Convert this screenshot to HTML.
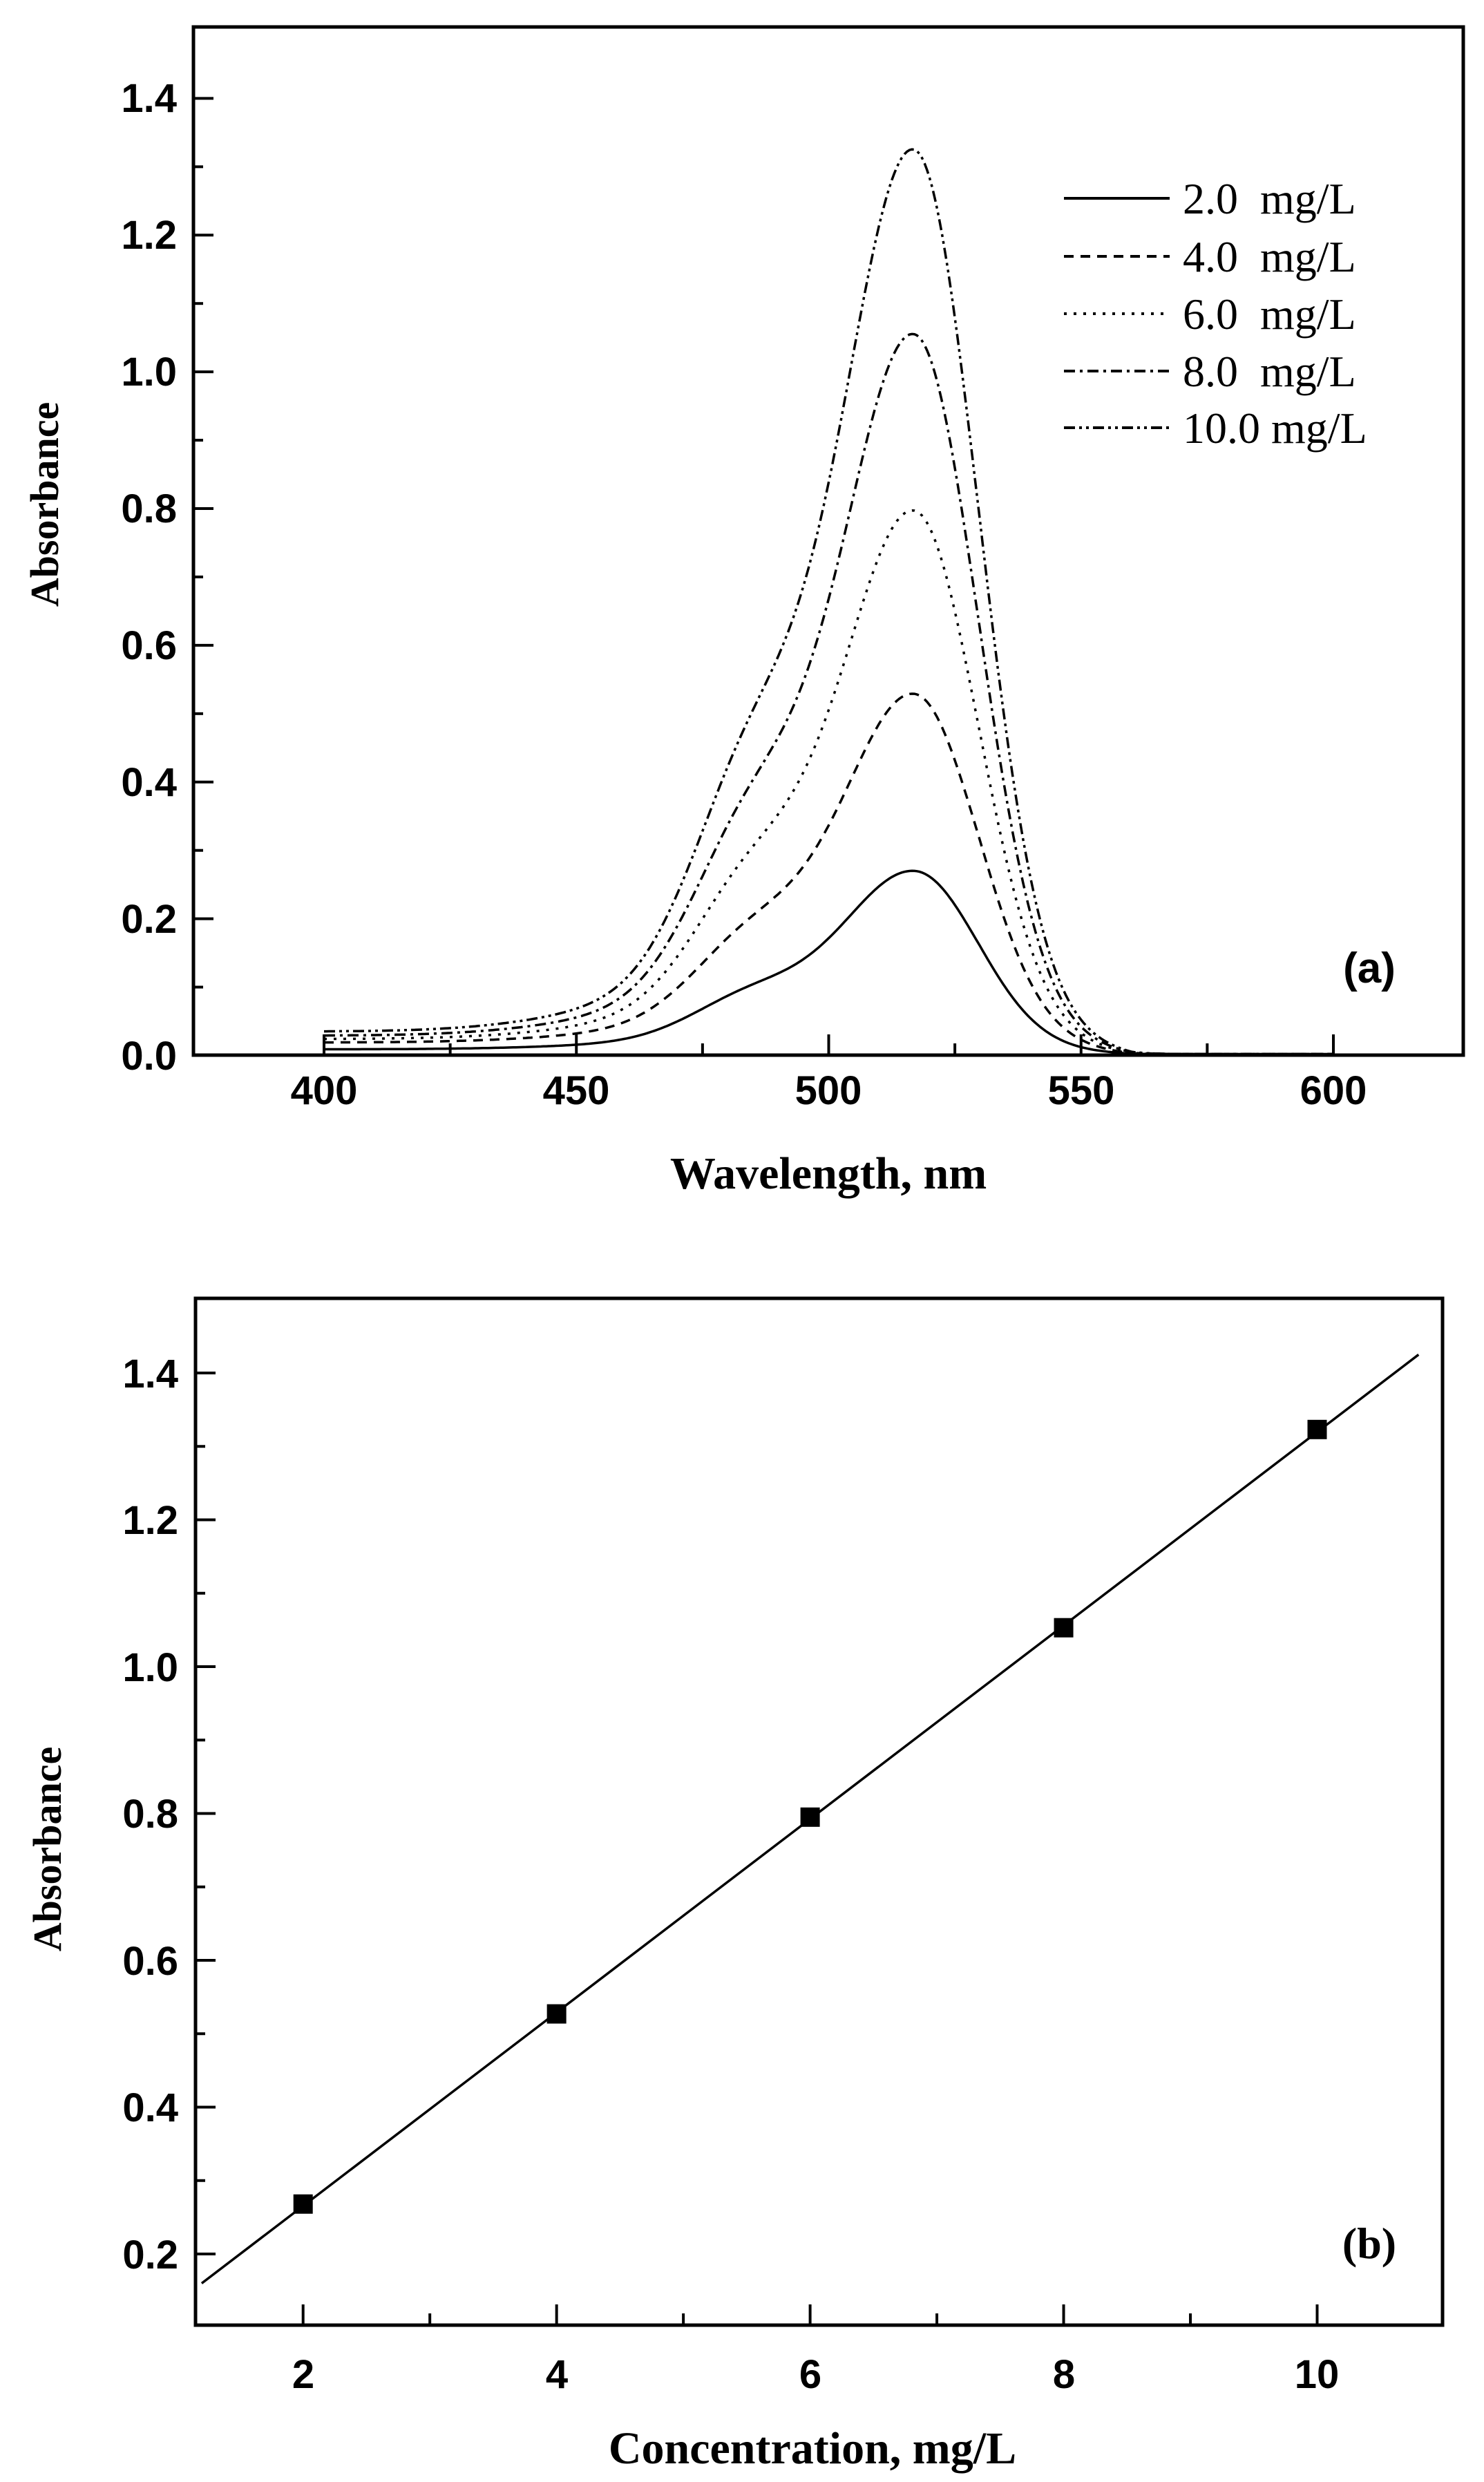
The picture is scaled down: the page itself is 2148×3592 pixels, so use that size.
<!DOCTYPE html>
<html><head><meta charset="utf-8"><style>
html,body{margin:0;padding:0;background:#fff}
svg{display:block}
.tk{font-family:"Liberation Sans",sans-serif;font-weight:bold;font-size:58px}
.ti{font-family:"Liberation Serif",serif;font-weight:bold}
.lg{font-family:"Liberation Serif",serif;font-size:64px}
</style></head><body>
<svg id="s" width="2148" height="3592" viewBox="0 0 2148 3592" xmlns="http://www.w3.org/2000/svg">
<rect width="2148" height="3592" fill="#fff"/>
<g id="g" fill="none" stroke="#000"></g>
<g class="tk" text-anchor="middle">
<text x="469" y="1598">400</text><text x="834" y="1598">450</text><text x="1199" y="1598">500</text><text x="1565" y="1598">550</text><text x="1930" y="1598">600</text>
</g>
<g class="tk" text-anchor="end">
<text x="256" y="1548">0.0</text><text x="256" y="1350">0.2</text><text x="256" y="1152">0.4</text><text x="256" y="954">0.6</text><text x="256" y="756">0.8</text><text x="256" y="558">1.0</text><text x="256" y="360">1.2</text><text x="256" y="162">1.4</text>
</g>
<text class="ti" x="1199" y="1720" font-size="66" text-anchor="middle">Wavelength, nm</text>
<text class="ti" font-size="58" text-anchor="middle" transform="translate(84,730) rotate(-90)">Absorbance</text>
<text x="1982" y="1422" font-family="Liberation Sans,sans-serif" font-weight="bold" font-size="62" text-anchor="middle">(a)</text>
<g class="lg">
<text x="1712" y="309">2.0&#160;&#160;mg/L</text>
<text x="1712" y="393">4.0&#160;&#160;mg/L</text>
<text x="1712" y="476">6.0&#160;&#160;mg/L</text>
<text x="1712" y="559">8.0&#160;&#160;mg/L</text>
<text x="1712" y="641">10.0 mg/L</text>
</g>
<g class="tk" text-anchor="middle">
<text x="439" y="3456">2</text><text x="806" y="3456">4</text><text x="1173" y="3456">6</text><text x="1540" y="3456">8</text><text x="1906" y="3456">10</text>
</g>
<g class="tk" text-anchor="end">
<text x="258" y="3283">0.2</text><text x="258" y="3070">0.4</text><text x="258" y="2858">0.6</text><text x="258" y="2645">0.8</text><text x="258" y="2433">1.0</text><text x="258" y="2220">1.2</text><text x="258" y="2008">1.4</text>
</g>
<text class="ti" x="1176" y="3565" font-size="66" text-anchor="middle">Concentration, mg/L</text>
<text class="ti" font-size="58" text-anchor="middle" transform="translate(88,2676) rotate(-90)">Absorbance</text>
<text class="ti" x="1982" y="3268" font-size="64" text-anchor="middle">(b)</text>
</svg>
<script>
(function(){
var g=document.getElementById('g');var NS='http://www.w3.org/2000/svg';
function el(t,a){var e=document.createElementNS(NS,t);for(var k in a)e.setAttribute(k,a[k]);g.appendChild(e);return e;}
function ln(x1,y1,x2,y2,w){el('line',{x1:x1,y1:y1,x2:x2,y2:y2,'stroke-width':w||5});}
var L=280,R=2118,T=39,B=1527;
function ax(v){return 469+(v-400)*(1930-469)/200;}
function ay(v){return 1527.5-v*(1527.5-142.4)/1.4;}
el('rect',{x:L,y:T,width:R-L,height:B-T,'stroke-width':5});
for(var w=400;w<=600;w+=25){var maj=(w%50==0);ln(ax(w),B,ax(w),B-(maj?30:17),4);}
for(var k=0;k<=14;k++){var v=k/10;var maj=k%2==0;ln(L,ay(v),L+(maj?29:14),ay(v),4);}
function f(l){
 var s=l<517?14.5:12.5;var m=Math.exp(-Math.pow(l-517,2)/(2*s*s));
 var sh=0.24*Math.exp(-Math.pow(l-485,2)/(2*12*12));
 var st=l<478?24:15;var tl=0.045*Math.exp(-Math.pow(l-478,2)/(2*st*st));
 return m+sh+tl;}
var F=f(517);
var peaks=[0.268,0.527,0.795,1.053,1.323],base=[0.007,0.017,0.022,0.027,0.033];
var dash=['none','14,10','4,10','16,7,4,7','16,6,4,6,4,6'];
for(var i=0;i<5;i++){
 var d='';for(var l=400;l<=600;l+=0.5){
  var fade=l<530?1:Math.max(0,(560-l)/30);
  var v=(peaks[i]-base[i])*f(l)/F+base[i]*fade+0.002;
  d+=(d?'L':'M')+ax(l).toFixed(1)+','+ay(v).toFixed(1);}
 el('path',{d:d,'stroke-width':3.5,'stroke-dasharray':dash[i]});
 var y=[287,371,454,537,619][i];
 el('line',{x1:1540,y1:y,x2:1693,y2:y,'stroke-width':4,'stroke-dasharray':dash[i]});
}
var L2=283,R2=2088,T2=1879,B2=3365;
function bx(v){return 438.7+(v-2)*(1906.5-438.7)/8;}
function by(v){return 3262-(v-0.2)*(3262-1987)/1.2;}
el('rect',{x:L2,y:T2,width:R2-L2,height:B2-T2,'stroke-width':5});
for(var c=2;c<=10;c++){var maj=c%2==0;ln(bx(c),B2,bx(c),B2-(maj?30:17),4);}
for(var k=2;k<=14;k++){var v=k/10;var maj=k%2==0;ln(L2,by(v),L2+(maj?29:14),by(v),4);}
ln(bx(1.2),by(0.16),bx(10.8),by(1.425),3.5);
var pts=[[2,0.268],[4,0.527],[6,0.795],[8,1.053],[10,1.323]];
pts.forEach(function(p){el('rect',{x:bx(p[0])-14,y:by(p[1])-14,width:28,height:28,fill:'#000',stroke:'none'});});
})();
</script>
</body></html>
